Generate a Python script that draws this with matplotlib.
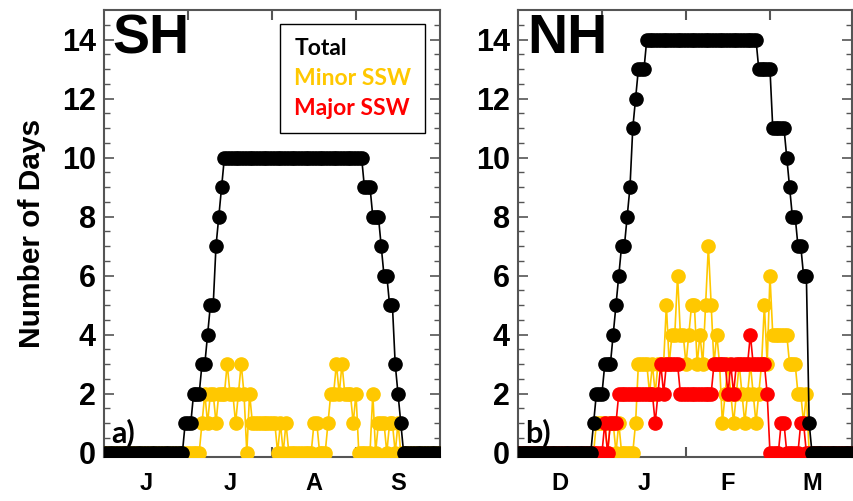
import matplotlib
matplotlib.use('Agg')
import matplotlib.pyplot as plt
import numpy as np
from matplotlib.lines import Line2D

# daily counts, day 0 = first day of the first month shown
sh_total = [0, 0, 0, 0, 0, 0, 0, 0, 0, 0,
            0, 0, 0, 0, 0, 0, 0, 0, 0, 0,
            0, 0, 0, 0, 0, 0, 0, 0, 0, 1,
            1, 1, 2, 2, 2, 3, 3, 4, 5, 5,
            7, 8, 9, 10, 10, 10, 10, 10, 10, 10,
            10, 10, 10, 10, 10, 10, 10, 10, 10, 10,
            10, 10, 10, 10, 10, 10, 10, 10, 10, 10,
            10, 10, 10, 10, 10, 10, 10, 10, 10, 10,
            10, 10, 10, 10, 10, 10, 10, 10, 10, 10,
            10, 10, 10, 9, 9, 9, 8, 8, 8, 7,
            6, 6, 5, 5, 3, 2, 1, 0, 0, 0,
            0, 0, 0, 0, 0, 0, 0, 0, 0, 0,
            0]
sh_minor = [0, 0, 0, 0, 0, 0, 0, 0, 0, 0,
            0, 0, 0, 0, 0, 0, 0, 0, 0, 0,
            0, 0, 0, 0, 0, 0, 0, 0, 0, 0,
            0, 0, 0, 0, 0, 1, 2, 1, 2, 2,
            1, 2, 2, 2, 3, 2, 2, 1, 2, 3,
            2, 0, 2, 1, 1, 1, 1, 1, 1, 1,
            1, 1, 0, 1, 0, 1, 0, 0, 0, 0,
            0, 0, 0, 0, 0, 1, 1, 0, 0, 0,
            1, 2, 2, 3, 2, 3, 2, 2, 2, 1,
            2, 0, 0, 0, 0, 0, 2, 0, 1, 1,
            1, 0, 1, 1, 0, 1, 0, 0, 0, 0,
            0, 0, 0, 0, 0, 0, 0, 0, 0, 0,
            0]
nh_total = [0, 0, 0, 0, 0, 0, 0, 0, 0, 0,
            0, 0, 0, 0, 0, 0, 0, 0, 0, 0,
            0, 0, 0, 0, 0, 0, 0, 1, 2, 2,
            2, 3, 3, 3, 4, 5, 6, 7, 7, 8,
            9, 11, 12, 13, 13, 13, 14, 14, 14, 14,
            14, 14, 14, 14, 14, 14, 14, 14, 14, 14,
            14, 14, 14, 14, 14, 14, 14, 14, 14, 14,
            14, 14, 14, 14, 14, 14, 14, 14, 14, 14,
            14, 14, 14, 14, 14, 14, 13, 13, 13, 13,
            13, 11, 11, 11, 11, 11, 10, 9, 8, 8,
            7, 7, 6, 6, 1, 0, 0, 0, 0, 0,
            0, 0, 0, 0, 0, 0, 0, 0, 0, 0,
            0]
nh_minor = [0, 0, 0, 0, 0, 0, 0, 0, 0, 0,
            0, 0, 0, 0, 0, 0, 0, 0, 0, 0,
            0, 0, 0, 0, 0, 0, 0, 0, 1, 1,
            1, 1, 0, 1, 1, 0, 1, 0, 0, 0,
            0, 0, 1, 3, 3, 3, 3, 2, 3, 2,
            3, 3, 3, 5, 3, 4, 4, 6, 4, 4,
            3, 4, 5, 5, 3, 4, 3, 5, 7, 5,
            3, 4, 3, 1, 2, 3, 2, 1, 2, 3,
            2, 1, 2, 3, 2, 1, 2, 3, 5, 3,
            6, 4, 4, 4, 4, 4, 4, 3, 3, 3,
            2, 2, 1, 2, 0, 0, 0, 0, 0, 0,
            0, 0, 0, 0, 0, 0, 0, 0, 0, 0,
            0]
nh_major = [0, 0, 0, 0, 0, 0, 0, 0, 0, 0,
            0, 0, 0, 0, 0, 0, 0, 0, 0, 0,
            0, 0, 0, 0, 0, 0, 0, 0, 0, 0,
            0, 1, 0, 1, 1, 1, 2, 2, 2, 2,
            2, 2, 2, 2, 2, 2, 2, 2, 2, 1,
            2, 3, 2, 3, 3, 3, 3, 3, 2, 2,
            2, 2, 2, 2, 2, 2, 2, 2, 2, 2,
            3, 3, 3, 3, 3, 2, 3, 2, 3, 3,
            3, 3, 3, 4, 3, 3, 3, 3, 3, 2,
            0, 0, 0, 0, 1, 1, 0, 0, 0, 0,
            0, 1, 1, 0, 0, 0, 0, 0, 0, 0,
            0, 0, 0, 0, 0, 0, 0, 0, 0, 0,
            0]

sh_months = ['J', 'J', 'A', 'S']
nh_months = ['D', 'J', 'F', 'M']
month_edges = [30, 60, 90]
month_mids = [15, 45, 75, 105]

days = np.arange(len(sh_total))

YELLOW = '#FFC800'
RED = '#FF0000'
tick_font = 'Liberation Sans'
soft_font = 'Lato'

fig = plt.figure(figsize=(8.54, 5.01), dpi=100)
ax1 = fig.add_axes([104/854, 44/501, 336/854, 447/501])
ax2 = fig.add_axes([518/854, 44/501, 334/854, 447/501])


def draw(ax, series, months, xmax):
    for vals, col in series:
        ax.plot(days, vals, color=col, lw=1.2, marker='o', ms=9.5,
                mec=col, mfc=col, zorder=3)
    ax.set_xlim(0, xmax)
    ax.set_ylim(-0.15, 15)
    ax.set_xticks(month_edges)
    ax.set_xticklabels([])
    ax.set_xticks(month_mids, minor=True)
    ax.set_xticklabels(months, minor=True, fontsize=17, fontweight='bold',
                       family=tick_font)
    ax.set_yticks(np.arange(0, 15, 2))
    ax.set_yticks(np.arange(0, 15, 0.5), minor=True)
    ax.set_yticklabels([str(v) for v in range(0, 15, 2)], fontsize=22,
                       fontweight='bold', family=tick_font)
    ax.tick_params(axis='both', which='both', direction='in', top=True,
                   right=True, color='#555555')
    ax.tick_params(axis='y', which='major', length=7, width=1.2, pad=6)
    ax.tick_params(axis='y', which='minor', length=4, width=1)
    ax.tick_params(axis='x', which='major', length=7, width=1.5)
    ax.tick_params(axis='x', which='minor', length=0, pad=11)
    for s in ax.spines.values():
        s.set_color('#555555')
        s.set_linewidth(1.5)


draw(ax1, [(sh_minor, YELLOW), (sh_total, 'black')], sh_months, 120)
draw(ax2, [(nh_minor, YELLOW), (nh_major, RED), (nh_total, 'black')],
     nh_months, 119.3)

ax1.text(0.026, 0.935, 'SH', transform=ax1.transAxes, fontsize=40,
         fontweight='bold', family=tick_font, va='center', ha='left')
ax2.text(0.028, 0.935, 'NH', transform=ax2.transAxes, fontsize=40,
         fontweight='bold', family=tick_font, va='center', ha='left')
ax1.text(0.022, 0.055, 'a)', transform=ax1.transAxes, fontsize=22,
         fontweight='bold', family=soft_font, va='center', ha='left')
ax2.text(0.022, 0.055, 'b)', transform=ax2.transAxes, fontsize=22,
         fontweight='bold', family=soft_font, va='center', ha='left')

fig.text(32/854, 0.535, 'Number of Days', rotation=90, fontsize=21.5,
         fontweight='bold', family=tick_font, va='center', ha='center')

handles = [Line2D([], [], ls='none', marker=None) for _ in range(3)]
leg = ax1.legend(handles, ['Total', 'Minor SSW', 'Major SSW'],
                 loc='upper right', bbox_to_anchor=(0.955, 0.968),
                 borderaxespad=0,
                 handlelength=0, handletextpad=0, fancybox=False,
                 framealpha=1, edgecolor='black', borderpad=0.6,
                 labelspacing=0.4,
                 labelcolor=['black', YELLOW, RED],
                 prop={'family': soft_font, 'weight': 'bold', 'size': 16.5})
leg.get_frame().set_linewidth(1.0)
leg.set_zorder(5)

plt.savefig('out.png', dpi=100)
